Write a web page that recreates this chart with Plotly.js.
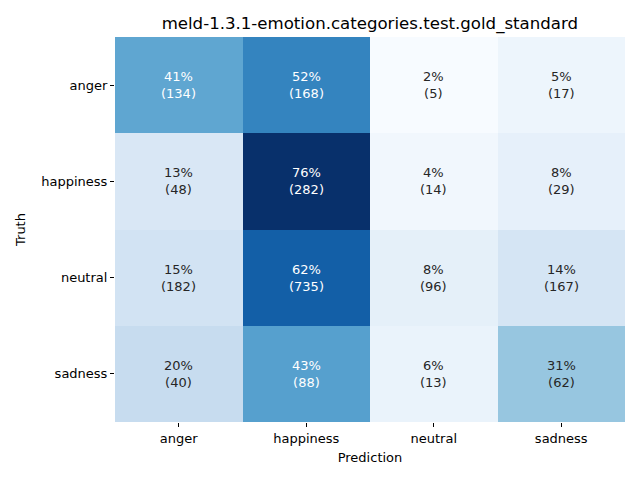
<!DOCTYPE html>
<html>
<head>
<meta charset="utf-8">
<script src="https://cdn.plot.ly/plotly-3.0.1.min.js"></script>
<style>html,body{margin:0;padding:0;background:#fff;}#chart{width:640px;height:480px;}</style>
</head>
<body>
<div id="chart"></div>
<script>
const predLabels = ["anger", "happiness", "neutral", "sadness"];
const truthLabels = ["anger", "happiness", "neutral", "sadness"];
const countsAnger = [134, 168, 5, 17];
const countsHappiness = [48, 282, 14, 29];
const countsNeutral = [182, 735, 96, 167];
const countsSadness = [40, 88, 13, 62];

const counts = [countsAnger, countsHappiness, countsNeutral, countsSadness];
const pct = counts.map(r => { const s = r.reduce((a,b)=>a+b,0); return r.map(v => 100*v/s); });
const flat = pct.flat();
const zmin = Math.min(...flat), zmax = Math.max(...flat);

const blues = [
  [0.0, "#f7fbff"], [0.125, "#deebf7"], [0.25, "#c6dbef"], [0.375, "#9ecae1"],
  [0.5, "#6baed6"], [0.625, "#4292c6"], [0.75, "#2171b5"], [0.875, "#08519c"], [1.0, "#08306b"]
];

const annotations = [];
for (let i = 0; i < truthLabels.length; i++) {
  for (let j = 0; j < predLabels.length; j++) {
    const norm = (pct[i][j] - zmin) / (zmax - zmin);
    annotations.push({
      x: predLabels[j], y: truthLabels[i], xref: "x", yref: "y",
      text: Math.round(pct[i][j]) + "%<br>(" + counts[i][j] + ")",
      showarrow: false,
      font: {family: "DejaVu Sans", size: 13, color: norm > 0.45 ? "#ffffff" : "#262626"}
    });
  }
}

const data = [{
  type: "heatmap",
  x: predLabels, y: truthLabels, z: pct,
  zmin: zmin, zmax: zmax,
  colorscale: blues, showscale: false, xgap: 0, ygap: 0, hoverinfo: "none"
}];

const layout = {
  width: 640, height: 480,
  margin: {l: 115, r: 15, t: 37, b: 58},
  paper_bgcolor: "#fff", plot_bgcolor: "#fff",
  font: {family: "DejaVu Sans", size: 13, color: "#000"},
  title: {text: "meld-1.3.1-emotion.categories.test.gold_standard", x: 0.5779, xanchor: "center", y: 0.952, yanchor: "middle", font: {size: 16.6, color: "#000"}},
  xaxis: {
    title: {text: "Prediction", font: {size: 13}, standoff: 8},
    ticks: "outside", ticklen: 4, tickcolor: "#000", showgrid: false, zeroline: false, showline: false,
    tickfont: {size: 13}
  },
  yaxis: {
    title: {text: "Truth", font: {size: 13}, standoff: 12},
    autorange: "reversed",
    ticks: "outside", ticklen: 4, tickcolor: "#000", showgrid: false, zeroline: false, showline: false,
    tickfont: {size: 13}
  },
  annotations: annotations
};

Plotly.newPlot("chart", data, layout, {displayModeBar: false, staticPlot: true});
</script>
</body>
</html>
